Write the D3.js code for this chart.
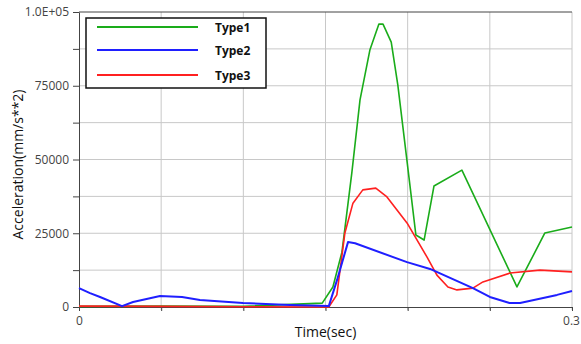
<!DOCTYPE html>
<html>
<head>
<meta charset="utf-8">
<script src="https://cdn.jsdelivr.net/npm/d3@7"></script>
<style>
  body { margin: 0; background: #fff; }
  text { font-family: "Open Sans", "Noto Sans", sans-serif; }
</style>
</head>
<body>
<svg id="chart" width="581" height="344"></svg>
<script>
// values: [time (s), acceleration (mm/s**2)]
const type1 = [
  [0, 200], [0.05, 300], [0.10, 250], [0.148, 1300], [0.1545, 6800], [0.160, 18600],
  [0.166, 45400], [0.171, 70200], [0.177, 87100], [0.1825, 95900], [0.185, 95900],
  [0.190, 89800], [0.194, 75300], [0.201, 43000], [0.205, 24400], [0.210, 22700],
  [0.216, 41000], [0.233, 46400], [0.2665, 6800], [0.2835, 25100], [0.300, 27100]
];
const type2 = [
  [0, 6400], [0.0067, 4700], [0.0128, 3400], [0.0262, 300], [0.0329, 1700],
  [0.0493, 3700], [0.0627, 3400], [0.0736, 2400], [0.0998, 1350], [0.1284, 700],
  [0.152, 300], [0.157, 9100], [0.1637, 22000], [0.168, 21600], [0.1996, 15200],
  [0.2136, 12900], [0.2397, 6400], [0.25, 3400], [0.262, 1350], [0.2684, 1350],
  [0.2909, 4100], [0.300, 5400]
];
const type3 = [
  [0, 300], [0.05, 200], [0.10, 100], [0.152, 0], [0.1569, 4100], [0.1618, 25100],
  [0.1667, 35200], [0.1727, 39700], [0.1806, 40300], [0.1874, 37300], [0.1996, 28500],
  [0.2118, 16900], [0.2178, 10800], [0.2245, 6800], [0.2300, 5800], [0.2397, 6400],
  [0.2458, 8500], [0.2623, 11500], [0.2805, 12500], [0.300, 11900]
];
const seriesNames = ["Type1", "Type2", "Type3"];
const colors = ["#1aac1a", "#1f1fff", "#ff2020"];
const yTicks = [0, 12500, 25000, 37500, 50000, 62500, 75000, 87500, 100000];
const yLabels = {0: "0", 25000: "25000", 50000: "50000", 75000: "75000", 100000: "1.0E+05"};
const xTicks = [0, 0.05, 0.1, 0.15, 0.2, 0.25, 0.3];
const xLabels = {0: "0", 0.3: "0.3"};

const svg = d3.select("#chart");
const margin = {top: 12, left: 79, bottom: 37, right: 9};
const width = +svg.attr("width");
const height = +svg.attr("height");

const x = d3.scaleLinear().domain([0, 0.3]).range([margin.left, width - margin.right]);
const y = d3.scaleLinear().domain([0, 100000]).range([height - margin.bottom, margin.top]);

// grid
svg.append("g")
  .selectAll("line")
  .data(xTicks.slice(1))
  .join("line")
  .attr("x1", d => x(d)).attr("x2", d => x(d))
  .attr("y1", y(100000)).attr("y2", y(0) + 3)
  .attr("stroke", "#c8c8c8");

svg.append("g")
  .selectAll("line")
  .data(yTicks.slice(1, -1))
  .join("line")
  .attr("x1", x(0)).attr("x2", x(0.3))
  .attr("y1", d => y(d)).attr("y2", d => y(d))
  .attr("stroke", "#c8c8c8");

// top border
svg.append("line")
  .attr("x1", x(0)).attr("x2", x(0.3))
  .attr("y1", y(100000)).attr("y2", y(100000))
  .attr("stroke", "#444");

// axes
const xAxis = svg.append("g")
  .attr("transform", `translate(0,${y(0)})`)
  .call(d3.axisBottom(x).tickValues(xTicks).tickSize(4).tickSizeOuter(0)
    .tickFormat(d => xLabels[d] || ""));
xAxis.select(".domain").attr("stroke", "#444");
xAxis.selectAll(".tick line").attr("stroke", "#444");
xAxis.selectAll("text").attr("fill", "#444").attr("font-size", 12).attr("dy", "0.9em");
xAxis.selectAll(".tick").filter(d => d === 0.3).select("text").attr("text-anchor", "middle").attr("dx", -1);

const yAxis = svg.append("g")
  .attr("transform", `translate(${x(0)},0)`)
  .call(d3.axisLeft(y).tickValues(yTicks).tickSize(6).tickSizeOuter(0)
    .tickFormat(d => yLabels[d] || ""));
yAxis.select(".domain").attr("stroke", "#444");
yAxis.selectAll(".tick line").attr("stroke", "#444");
yAxis.selectAll("text").attr("fill", "#444").attr("font-size", 12).attr("x", -10);

// axis titles
svg.append("text")
  .attr("x", (x(0) + x(0.3)) / 2)
  .attr("y", 337)
  .attr("text-anchor", "middle")
  .attr("font-size", 14)
  .attr("fill", "#111")
  .text("Time(sec)");

svg.append("text")
  .attr("transform", `translate(23,${(y(0) + y(100000)) / 2 + 5}) rotate(-90)`)
  .attr("text-anchor", "middle")
  .attr("font-size", 14)
  .attr("fill", "#111")
  .text("Acceleration(mm/s**2)");

// lines
const line = d3.line().x(d => x(d[0])).y(d => y(d[1]));
[type1, type3, type2].forEach((s, i) => {
  const idx = [0, 2, 1][i];
  svg.append("path")
    .datum(s)
    .attr("fill", "none")
    .attr("stroke", colors[idx])
    .attr("stroke-width", idx === 1 ? 2 : 1.6)
    .attr("stroke-linejoin", "round")
    .attr("d", line);
});

// legend
const legend = svg.append("g").attr("transform", "translate(86,18)");
legend.append("rect")
  .attr("width", 180).attr("height", 70)
  .attr("fill", "#fff").attr("stroke", "#111").attr("stroke-width", 1.5);
const rows = [9, 32, 57];
seriesNames.forEach((name, i) => {
  legend.append("line")
    .attr("x1", 11).attr("x2", 112)
    .attr("y1", rows[i]).attr("y2", rows[i])
    .attr("stroke", colors[i]).attr("stroke-width", 2);
  legend.append("text")
    .attr("x", 129).attr("y", rows[i] + 4.5)
    .attr("font-family", "DejaVu Sans")
    .attr("font-weight", "bold")
    .attr("font-size", 12)
    .attr("fill", "#111")
    .text(name);
});
</script>
</body>
</html>
